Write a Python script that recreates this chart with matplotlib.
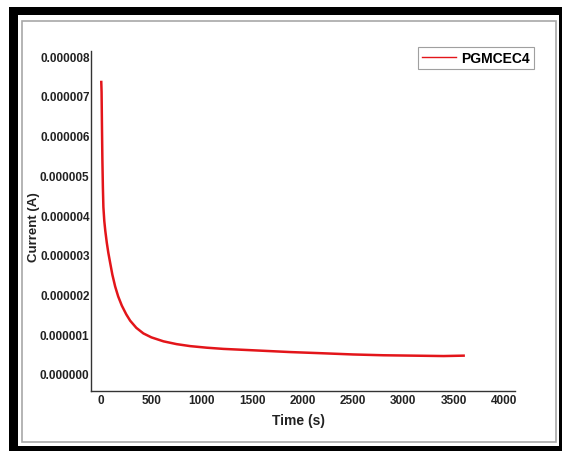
import matplotlib
matplotlib.use("Agg")
import matplotlib.pyplot as plt
import numpy as np
from matplotlib.patches import Rectangle
from matplotlib.ticker import FuncFormatter

# chronoamperometry curve, values
time_s = [2, 5, 9, 13, 18, 23, 32, 42, 57, 72, 90, 112, 140, 170, 206, 250,
          289, 350, 420, 500, 620, 750, 885, 1050, 1215, 1550, 1880, 2200,
          2500, 2800, 3100, 3400, 3600]
current_a = [7.35e-6, 7.1e-6, 6.2e-6, 5.4e-6, 4.7e-6, 4.2e-6, 3.85e-6, 3.6e-6,
             3.3e-6, 3.05e-6, 2.8e-6, 2.5e-6, 2.2e-6, 1.95e-6, 1.72e-6, 1.5e-6,
             1.34e-6, 1.16e-6, 1.02e-6, 0.92e-6, 0.82e-6, 0.75e-6, 0.70e-6,
             0.66e-6, 0.63e-6, 0.59e-6, 0.55e-6, 0.52e-6, 0.49e-6, 0.47e-6,
             0.46e-6, 0.45e-6, 0.46e-6]
series_name = "PGMCEC4"
x_ticks = [0, 500, 1000, 1500, 2000, 2500, 3000, 3500, 4000]
y_ticks = [0, 1e-6, 2e-6, 3e-6, 4e-6, 5e-6, 6e-6, 7e-6, 8e-6]

plt.rcParams['font.family'] = ['Liberation Sans', 'DejaVu Sans']

W, H = 562, 452
fig = plt.figure(figsize=(W / 100, H / 100), dpi=100)


def px_rect(x0, y0, x1, y1, **kw):
    # rectangle given in picture pixels (origin top-left)
    return Rectangle((x0 / W, 1 - y1 / H), (x1 - x0) / W, (y1 - y0) / H,
                     transform=fig.transFigure, **kw)


# black screenshot frame + thin grey inner frame
fig.add_artist(px_rect(9, 8, 570, 460, facecolor='black', edgecolor='none', zorder=-10))
fig.add_artist(px_rect(18, 16, 559, 447, facecolor='white', edgecolor='none', zorder=-9))
fig.add_artist(px_rect(22, 22, 556, 443, facecolor='none', edgecolor='#a8a8a8', lw=1.2, zorder=-8))

ax = fig.add_axes([91 / W, 1 - 392 / H, (515 - 91) / W, (392 - 52) / H])
ax.set_facecolor('none')

ax.plot(time_s, current_a, color='#e3151a', lw=1.8, label=series_name)

ax.set_xlim(-100, 4110)
ax.set_ylim(-0.43e-6, 8.13e-6)
ax.set_xticks(x_ticks)
ax.set_yticks(y_ticks)
ax.yaxis.set_major_formatter(FuncFormatter(lambda v, p: f"{abs(v):.6f}"))

for s in ['top', 'right']:
    ax.spines[s].set_visible(False)
for s in ['left', 'bottom']:
    ax.spines[s].set_color('#333333')
    ax.spines[s].set_linewidth(1.0)

ax.tick_params(axis='both', length=0, labelsize=8.5, labelcolor='#222222')
ax.tick_params(axis='x', pad=2)
ax.tick_params(axis='y', pad=1)
for lab in ax.get_xticklabels() + ax.get_yticklabels():
    lab.set_fontweight('bold')

ax.set_xlabel("Time (s)", fontsize=10, fontweight='bold', color='#222222')
ax.set_ylabel("Current (A)", fontsize=9.5, fontweight='bold', color='#222222')
ax.xaxis.set_label_coords((298 - 91) / (515 - 91), -(414 - 392) / (392 - 52))
ax.yaxis.set_label_coords(-(91 - 40) / (515 - 91), (392 - 227) / (392 - 52))

leg = ax.legend(loc='upper right', bbox_to_anchor=(534 / W, 1 - 48 / H),
                bbox_transform=fig.transFigure, borderaxespad=0,
                fancybox=False, frameon=True, prop={'weight': 'bold', 'size': 10},
                handlelength=2.4, handletextpad=0.4, borderpad=0.3)
leg.get_frame().set_edgecolor('#888888')
leg.get_frame().set_linewidth(0.8)
leg.get_lines()[0].set_linewidth(1.0)

fig.savefig("out.png", dpi=100)
